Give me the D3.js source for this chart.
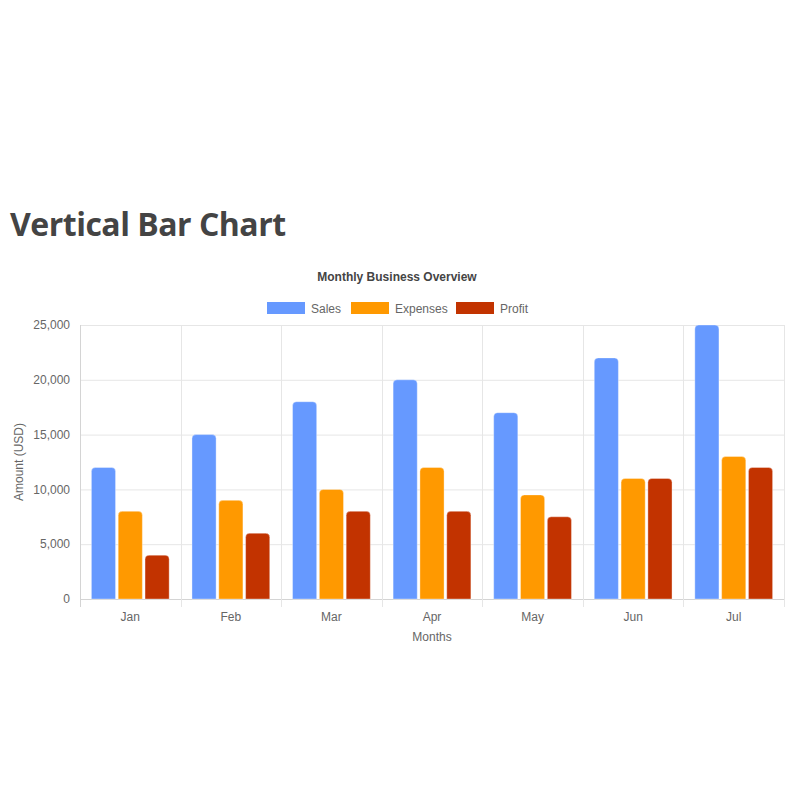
<!DOCTYPE html>
<html>
<head>
<meta charset="utf-8">
<script src="https://cdn.jsdelivr.net/npm/d3@7"></script>
<style>
  body { margin: 0; background: #fff; }
  svg { display: block; }
</style>
</head>
<body>
<div id="viz"></div>
<script>
const width = 800, height = 800;

// data
const months = ["Jan", "Feb", "Mar", "Apr", "May", "Jun", "Jul"];
const seriesNames = ["Sales", "Expenses", "Profit"];
const sales = [12000, 15000, 18000, 20000, 17000, 22000, 25000];
const expenses = [8000, 9000, 10000, 12000, 9500, 11000, 13000];
const profit = [4000, 6000, 8000, 8000, 7500, 11000, 12000];
const yTicks = [0, 5000, 10000, 15000, 20000, 25000];
const seriesColors = ["#6699ff", "#ff9900", "#c23300"];

const seriesValues = [sales, expenses, profit];
const plot = { left: 80, right: 784, top: 325, bottom: 599 };

const svg = d3.select("#viz").append("svg")
  .attr("width", width)
  .attr("height", height);

// page heading
svg.append("text")
  .attr("x", 10)
  .attr("y", 236)
  .attr("font-family", "'Open Sans', sans-serif")
  .attr("font-weight", 700)
  .attr("font-size", "32px")
  .attr("letter-spacing", "-0.5px")
  .attr("fill", "#444")
  .text("Vertical Bar Chart");

const x0 = d3.scaleBand()
  .domain(months)
  .range([plot.left, plot.right]);

// chart.js style: categoryPercentage 0.8, barPercentage 0.9
const x1 = d3.scaleBand()
  .domain(seriesNames)
  .range([x0.bandwidth() * 0.1, x0.bandwidth() * 0.9]);

const y = d3.scaleLinear()
  .domain([0, 25000])
  .range([plot.bottom, plot.top]);

// horizontal grid
svg.append("g")
  .selectAll("line")
  .data(yTicks)
  .enter().append("line")
  .attr("x1", plot.left)
  .attr("x2", plot.right)
  .attr("y1", d => y(d) + 0.5)
  .attr("y2", d => y(d) + 0.5)
  .attr("stroke", d => d === 0 ? "#d4d4d4" : "#e6e6e6");

// vertical grid, with little ticks below axis
const vx = months.map(m => x0(m)).concat([plot.right]);
svg.append("g")
  .selectAll("line")
  .data(vx)
  .enter().append("line")
  .attr("x1", d => Math.round(d) + 0.5)
  .attr("x2", d => Math.round(d) + 0.5)
  .attr("y1", plot.top)
  .attr("y2", plot.bottom + 8)
  .attr("stroke", (d, i) => i === 0 ? "#d4d4d4" : "#e6e6e6");

// y tick labels
svg.append("g")
  .selectAll("text")
  .data(yTicks)
  .enter().append("text")
  .attr("x", 70)
  .attr("y", d => y(d))
  .attr("dy", "0.35em")
  .attr("text-anchor", "end")
  .attr("font-family", "'Liberation Sans', Arial, sans-serif")
  .attr("font-size", "12px")
  .attr("fill", "#666")
  .text(d => d3.format(",")(d));

// x tick labels
svg.append("g")
  .selectAll("text")
  .data(months)
  .enter().append("text")
  .attr("x", d => x0(d) + x0.bandwidth() / 2)
  .attr("y", 621)
  .attr("text-anchor", "middle")
  .attr("font-family", "'Liberation Sans', Arial, sans-serif")
  .attr("font-size", "12px")
  .attr("fill", "#666")
  .text(d => d);

// bar path with rounded top corners
function topRounded(xp, yp, w, h, r) {
  r = Math.min(r, w / 2, h);
  return `M${xp},${yp + h}V${yp + r}Q${xp},${yp} ${xp + r},${yp}H${xp + w - r}Q${xp + w},${yp} ${xp + w},${yp + r}V${yp + h}Z`;
}

const barW = x1.bandwidth() * 0.9;
const groups = svg.append("g")
  .selectAll("g")
  .data(months)
  .enter().append("g")
  .attr("transform", d => `translate(${x0(d)},0)`);

groups.selectAll("path")
  .data((m, i) => seriesNames.map((s, j) => ({ series: s, idx: j, value: seriesValues[j][i] })))
  .enter().append("path")
  .attr("d", d => {
    const bx = x1(d.series) + (x1.bandwidth() - barW) / 2;
    const by = y(d.value);
    return topRounded(bx, by, barW, plot.bottom - by, 4);
  })
  .attr("fill", d => seriesColors[d.idx])
  .attr("stroke", "#fff")
  .attr("stroke-opacity", 0.35)
  .attr("stroke-width", 1);

// chart title
svg.append("text")
  .attr("x", 397)
  .attr("y", 281)
  .attr("text-anchor", "middle")
  .attr("font-family", "'Liberation Sans', Arial, sans-serif")
  .attr("font-weight", 700)
  .attr("font-size", "12px")
  .attr("fill", "#444")
  .text("Monthly Business Overview");

// legend
const legendX = [267, 351, 456];
const legend = svg.append("g");
seriesNames.forEach((s, i) => {
  legend.append("rect")
    .attr("x", legendX[i])
    .attr("y", 302)
    .attr("width", 38)
    .attr("height", 12)
    .attr("fill", seriesColors[i]);
  legend.append("text")
    .attr("x", legendX[i] + 44)
    .attr("y", 313)
    .attr("font-family", "'Liberation Sans', Arial, sans-serif")
    .attr("font-size", "12px")
    .attr("fill", "#666")
    .text(s);
});

// axis titles
svg.append("text")
  .attr("transform", "translate(23,462) rotate(-90)")
  .attr("text-anchor", "middle")
  .attr("font-family", "'Liberation Sans', Arial, sans-serif")
  .attr("font-size", "12px")
  .attr("fill", "#666")
  .text("Amount (USD)");

svg.append("text")
  .attr("x", 432)
  .attr("y", 641)
  .attr("text-anchor", "middle")
  .attr("font-family", "'Liberation Sans', Arial, sans-serif")
  .attr("font-size", "12px")
  .attr("fill", "#666")
  .text("Months");
</script>
</body>
</html>
